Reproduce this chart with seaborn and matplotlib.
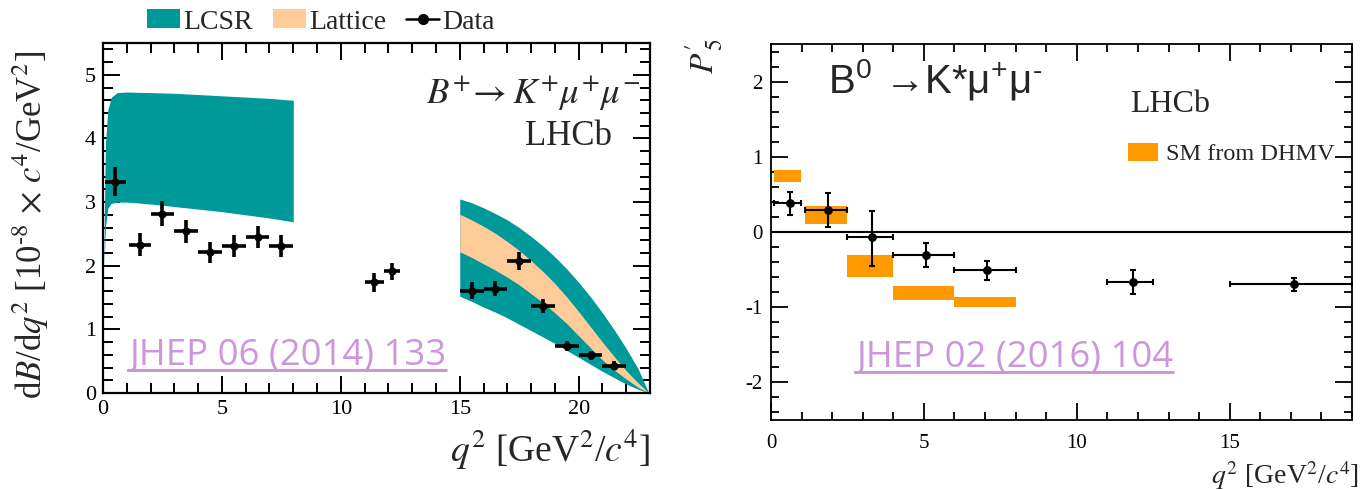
import numpy as np
import pandas as pd
import matplotlib
matplotlib.use("Agg")
import matplotlib.pyplot as plt
import seaborn as sns
from matplotlib.patches import Patch
from matplotlib.lines import Line2D
from matplotlib.ticker import MultipleLocator

# ---------------- data: B+ -> K+ mu mu (left) ----------------
bk_lo = [0.1, 1.1, 2.0, 3.0, 4.0, 5.0, 6.0, 7.0, 11.0, 11.8, 15.0, 16.0, 17.0, 18.0, 19.0, 20.0, 21.0]
bk_hi = [0.98, 2.0, 3.0, 4.0, 5.0, 6.0, 7.0, 8.0, 11.8, 12.5, 16.0, 17.0, 18.0, 19.0, 20.0, 21.0, 22.0]
bk_q = [0.52, 1.55, 2.5, 3.5, 4.5, 5.5, 6.5, 7.5, 11.4, 12.15, 15.5, 16.5, 17.5, 18.5, 19.5, 20.5, 21.5]
bk_val = [3.32, 2.33, 2.82, 2.54, 2.21, 2.31, 2.45, 2.31, 1.74, 1.91, 1.61, 1.64, 2.07, 1.37, 0.74, 0.59, 0.43]
bk_err = [0.23, 0.18, 0.20, 0.18, 0.17, 0.17, 0.17, 0.17, 0.15, 0.14, 0.13, 0.12, 0.14, 0.11, 0.08, 0.07, 0.07]

# LCSR band, low q2
lcsr_low_q = [0.05, 0.1, 0.2, 0.35, 0.6, 1.0, 2.0, 3.0, 4.0, 5.0, 6.0, 7.0, 8.0]
lcsr_low_up = [2.6, 3.9, 4.45, 4.65, 4.72, 4.73, 4.72, 4.71, 4.69, 4.67, 4.65, 4.63, 4.60]
lcsr_low_dn = [2.0, 2.6, 2.9, 2.98, 3.0, 3.0, 2.97, 2.93, 2.89, 2.85, 2.80, 2.75, 2.69]

# LCSR band, high q2
lcsr_hi_q = [15.0, 15.5, 16.0, 16.5, 17.0, 17.5, 18.0, 18.5, 19.0, 19.5, 20.0, 20.5,
             21.0, 21.5, 22.0, 22.5, 22.95]
lcsr_hi_up = [3.05, 2.99, 2.91, 2.82, 2.72, 2.60, 2.46, 2.31, 2.14, 1.95, 1.74, 1.51,
              1.26, 0.99, 0.70, 0.38, 0.0]
lcsr_hi_dn = [1.52, 1.44, 1.35, 1.27, 1.18, 1.08, 0.98, 0.88, 0.78, 0.67, 0.56, 0.45,
              0.34, 0.24, 0.14, 0.06, 0.0]

# Lattice band, high q2
latt_q = [15.0, 15.5, 16.0, 16.5, 17.0, 17.5, 18.0, 18.5, 19.0, 19.5, 20.0, 20.5,
          21.0, 21.5, 22.0, 22.5, 22.95]
latt_up = [2.81, 2.72, 2.62, 2.51, 2.38, 2.24, 2.08, 1.91, 1.72, 1.51, 1.28, 1.04,
           0.80, 0.57, 0.35, 0.16, 0.0]
latt_dn = [2.22, 2.13, 2.03, 1.93, 1.82, 1.70, 1.56, 1.42, 1.26, 1.09, 0.90, 0.71,
           0.52, 0.36, 0.22, 0.09, 0.0]

# ---------------- data: B0 -> K* mu mu, P5' (right) ----------------
p5_lo = [0.1, 1.1, 2.5, 4.0, 6.0, 11.0, 15.0]
p5_hi = [0.98, 2.5, 4.0, 6.0, 8.0, 12.5, 19.0]
p5_q = [0.62, 1.88, 3.3, 5.07, 7.08, 11.85, 17.1]
p5_val = [0.39, 0.29, -0.07, -0.30, -0.51, -0.66, -0.69]
p5_eup = [0.14, 0.23, 0.35, 0.16, 0.13, 0.15, 0.08]
p5_edn = [0.16, 0.22, 0.38, 0.17, 0.13, 0.17, 0.09]

sm_lo = [0.1, 1.1, 2.5, 4.0, 6.0]
sm_hi = [0.98, 2.5, 4.0, 6.0, 8.0]
sm_bot = [0.66, 0.10, -0.60, -0.90, -1.00]
sm_top = [0.83, 0.34, -0.31, -0.72, -0.87]

TEAL = "#009999"
PEACH = "#FFCC99"
ORANGE = "#FF9900"
LINK = "#CC96DC"
SERIF = ["Liberation Serif", "DejaVu Serif"]

sns.set_theme(style="ticks")
plt.rcParams["font.family"] = SERIF
plt.rcParams["mathtext.fontset"] = "stix"
plt.rcParams["axes.unicode_minus"] = False

W, H = 1364, 490
fig = plt.figure(figsize=(W / 100, H / 100), dpi=100)
ax1 = fig.add_axes([103 / W, 1 - 393 / H, 547 / W, 350 / H])
ax2 = fig.add_axes([771 / W, 1 - 420 / H, 581 / W, 376 / H])

# ---------- left panel ----------
ax1.fill_between(lcsr_low_q, lcsr_low_dn, lcsr_low_up, color=TEAL, lw=0, zorder=1)
ax1.fill_between(lcsr_hi_q, lcsr_hi_dn, lcsr_hi_up, color=TEAL, lw=0, zorder=1)
ax1.fill_between(latt_q, latt_dn, latt_up, color=PEACH, lw=0, zorder=2)

bk = pd.DataFrame({"q": bk_q, "v": bk_val, "lo": bk_lo, "hi": bk_hi, "e": bk_err})
ax1.errorbar(bk["q"], bk["v"], xerr=[bk["q"] - bk["lo"], bk["hi"] - bk["q"]], yerr=bk["e"],
             fmt="none", ecolor="black", elinewidth=2.6, capsize=0, zorder=4)
sns.scatterplot(data=bk, x="q", y="v", ax=ax1, color="black", s=34, edgecolor="black",
                linewidth=0, zorder=5, legend=False)

ax1.set_xlim(0, 23)
ax1.set_ylim(0, 5.5)
ax1.xaxis.set_major_locator(MultipleLocator(5))
ax1.xaxis.set_minor_locator(MultipleLocator(1))
ax1.yaxis.set_major_locator(MultipleLocator(1))
ax1.yaxis.set_minor_locator(MultipleLocator(0.2))
ax1.tick_params(which="both", direction="in", top=True, right=True, width=1.4,
                labelsize=16, pad=5, colors="black", labelfontfamily="Liberation Serif")
ax1.tick_params(which="major", length=12)
ax1.tick_params(which="minor", length=7)
for s in ax1.spines.values():
    s.set_linewidth(1.6)
    s.set_color("black")

ax1.set_xlabel(r"$q^2$ [GeV$^2$/$c^4$]", fontsize=27, loc="right", labelpad=6)
ax1.set_ylabel(r"d$B$/d$q^2$ [10$^{\text{-8}}$ $\times$ $c^4$/GeV$^2$]", fontsize=25)
ax1.yaxis.set_label_coords(-0.095, 0.48)

ax1.text(22.6, 4.55, r"$B^{+}\!\rightarrow K^{+}\mu^{+}\mu^{-}$", fontsize=26.5,
         ha="right", va="baseline")
ax1.text(21.4, 3.90, "LHCb", fontsize=25, ha="right", va="baseline")
link1 = ax1.text(1.14, 0.44, "JHEP 06 (2014) 133", fontsize=26.3, color=LINK,
                 family=["Open Sans", "DejaVu Sans"], ha="left", va="baseline")

handles = [Patch(facecolor=TEAL, edgecolor="none"),
           Patch(facecolor=PEACH, edgecolor="none"),
           Line2D([0], [0], color="black", lw=1.8, marker="o", markersize=7)]
fig.legend(handles, ["LCSR", "Lattice", "Data"], loc="center left",
           bbox_to_anchor=(147 / W, 1 - 22 / H), ncol=3, frameon=False, fontsize=20,
           handlelength=1.2, handleheight=0.65, handletextpad=0.12, columnspacing=0.7,
           borderpad=0, borderaxespad=0)

# ---------- right panel ----------
sm = pd.DataFrame({"lo": sm_lo, "hi": sm_hi, "bot": sm_bot, "top": sm_top})
ax2.bar(sm["lo"], sm["top"] - sm["bot"], width=sm["hi"] - sm["lo"], bottom=sm["bot"],
        align="edge", color=ORANGE, lw=0, zorder=1, label="SM from DHMV")
ax2.axhline(0, color="black", lw=1.5, zorder=2)

p5 = pd.DataFrame({"q": p5_q, "v": p5_val, "lo": p5_lo, "hi": p5_hi,
                   "eu": p5_eup, "ed": p5_edn})
ax2.errorbar(p5["q"], p5["v"], xerr=[p5["q"] - p5["lo"], p5["hi"] - p5["q"]],
             yerr=[p5["ed"], p5["eu"]], fmt="none", ecolor="black", elinewidth=1.5,
             capsize=2.5, capthick=1.5, zorder=4)
sns.scatterplot(data=p5, x="q", y="v", ax=ax2, color="black", s=40, edgecolor="black",
                linewidth=0, zorder=5, legend=False)

ax2.set_xlim(0, 19)
ax2.set_ylim(-2.5, 2.5)
ax2.xaxis.set_major_locator(MultipleLocator(5))
ax2.xaxis.set_minor_locator(MultipleLocator(1))
ax2.yaxis.set_major_locator(MultipleLocator(1))
ax2.yaxis.set_minor_locator(MultipleLocator(0.2))
ax2.tick_params(which="both", direction="in", top=True, right=True, width=1.3,
                labelsize=15, colors="black", labelfontfamily="Liberation Serif")
ax2.tick_params(axis="x", pad=10)
ax2.tick_params(axis="y", pad=6)
ax2.tick_params(which="major", length=12)
ax2.tick_params(which="minor", length=6)
for s in ax2.spines.values():
    s.set_linewidth(1.3)
    s.set_color("black")

ax2.set_xlabel(r"$q^2$ [GeV$^2$/$c^4$]", fontsize=20, loc="right")
ax2.xaxis.set_label_coords(1.012, -0.103)
ax2.xaxis.label.set_va("top")
ax2.set_ylabel(r"$P^{\prime}_{\,5}$", fontsize=24, loc="top")
ax2.yaxis.set_label_coords(-0.08, 1.015)

ax2.text(1.88, 1.85, r"B$^{\mathdefault{0}}$ →K*μ$^{\mathdefault{+}}$μ$^{\text{-}}$",
         fontsize=29, family=["Liberation Sans", "DejaVu Sans"], ha="left", va="baseline")
ax2.text(11.75, 1.60, "LHCb", fontsize=23, ha="left", va="baseline")
ax2.legend(loc="center left", bbox_to_anchor=((1128 - 771) / 581, (420 - 154) / 376),
           frameon=False, fontsize=17.5, handlelength=1.25, handleheight=0.8,
           handletextpad=0.3, borderpad=0, borderaxespad=0)
link2 = ax2.text(2.8, -1.80, "JHEP 02 (2016) 104", fontsize=26.3, color=LINK,
                 family=["Open Sans", "DejaVu Sans"], ha="left", va="baseline")

# underline the two link texts
fig.canvas.draw()
renderer = fig.canvas.get_renderer()
inv = fig.transFigure.inverted()
for txt in (link1, link2):
    bb = txt.get_window_extent(renderer)
    base = txt.get_transform().transform(txt.get_position())[1]
    y = base - 5
    (x0, yf), (x1, _) = inv.transform([(bb.x0 - 3, y), (bb.x1, y)])
    fig.add_artist(Line2D([x0, x1], [yf, yf], transform=fig.transFigure,
                          color=LINK, lw=2.2, solid_capstyle="butt"))

fig.savefig("out.png", dpi=100)
